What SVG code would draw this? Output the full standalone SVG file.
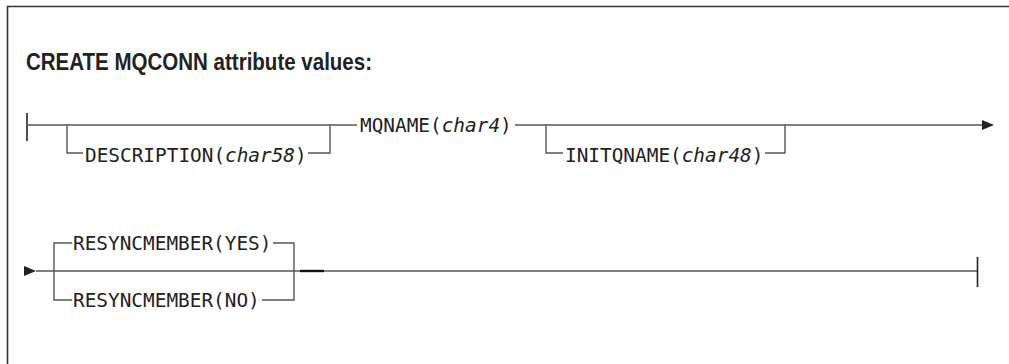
<svg xmlns="http://www.w3.org/2000/svg" width="1009" height="364" viewBox="0 0 1009 364">
<style>
.ln{stroke:#555;stroke-width:1.4;fill:none}
.bar{stroke:#222;stroke-width:1.6;fill:none}
.t{font-family:"DejaVu Sans Mono","Liberation Mono",monospace;font-size:19.4px;fill:#222}
.i{font-style:italic}
.title{font-family:"Liberation Sans",Arial,sans-serif;font-weight:bold;font-size:23.5px;fill:#222}
.ar{fill:#222}
</style>
<rect width="1009" height="364" fill="#fff"/>
<path d="M7.5 364V6.5H1009" stroke="#333" stroke-width="1.6" fill="none"/>
<text class="title" x="26" y="70" textLength="346" lengthAdjust="spacingAndGlyphs">CREATE MQCONN attribute values:</text>
<g id="connectors">
<path class="bar" d="M27 113V141"/>
<path class="ln" d="M27 125H357M515 125H982"/>
<path class="ln" d="M67 125V153H83M308 153H330V125"/>
<path class="ln" d="M546 125V153H563M765 153H785V125"/>
<path class="ar" d="M982 120L994 125L982 130Z"/>
<path class="ar" d="M24 266L36 271L24 276Z"/>
<path class="ln" d="M36 271H977"/>
<path class="ln" d="M54 271V243H72M273 243H294V271M54 271V300H72M262 300H294V271"/>
<path d="M300 271H324" stroke="#111" stroke-width="2.4"/>
<path class="bar" d="M977.5 257V287"/>
</g>
<g id="n_description"><text class="t" x="85" y="161.5">DESCRIPTION(</text><text class="t i" x="225" y="161.5">char58</text><text class="t" x="295" y="161.5">)</text></g>
<g id="n_mqname"><text class="t" x="360" y="131.5">MQNAME(</text><text class="t i" x="441.7" y="131.5">char4</text><text class="t" x="500" y="131.5">)</text></g>
<g id="n_initqname"><text class="t" x="565" y="161.5">INITQNAME(</text><text class="t i" x="681.7" y="161.5">char48</text><text class="t" x="751.7" y="161.5">)</text></g>
<g id="n_yes"><text class="t" x="73" y="250">RESYNCMEMBER(YES)</text></g>
<g id="n_no"><text class="t" x="73" y="307">RESYNCMEMBER(NO)</text></g>
</svg>
